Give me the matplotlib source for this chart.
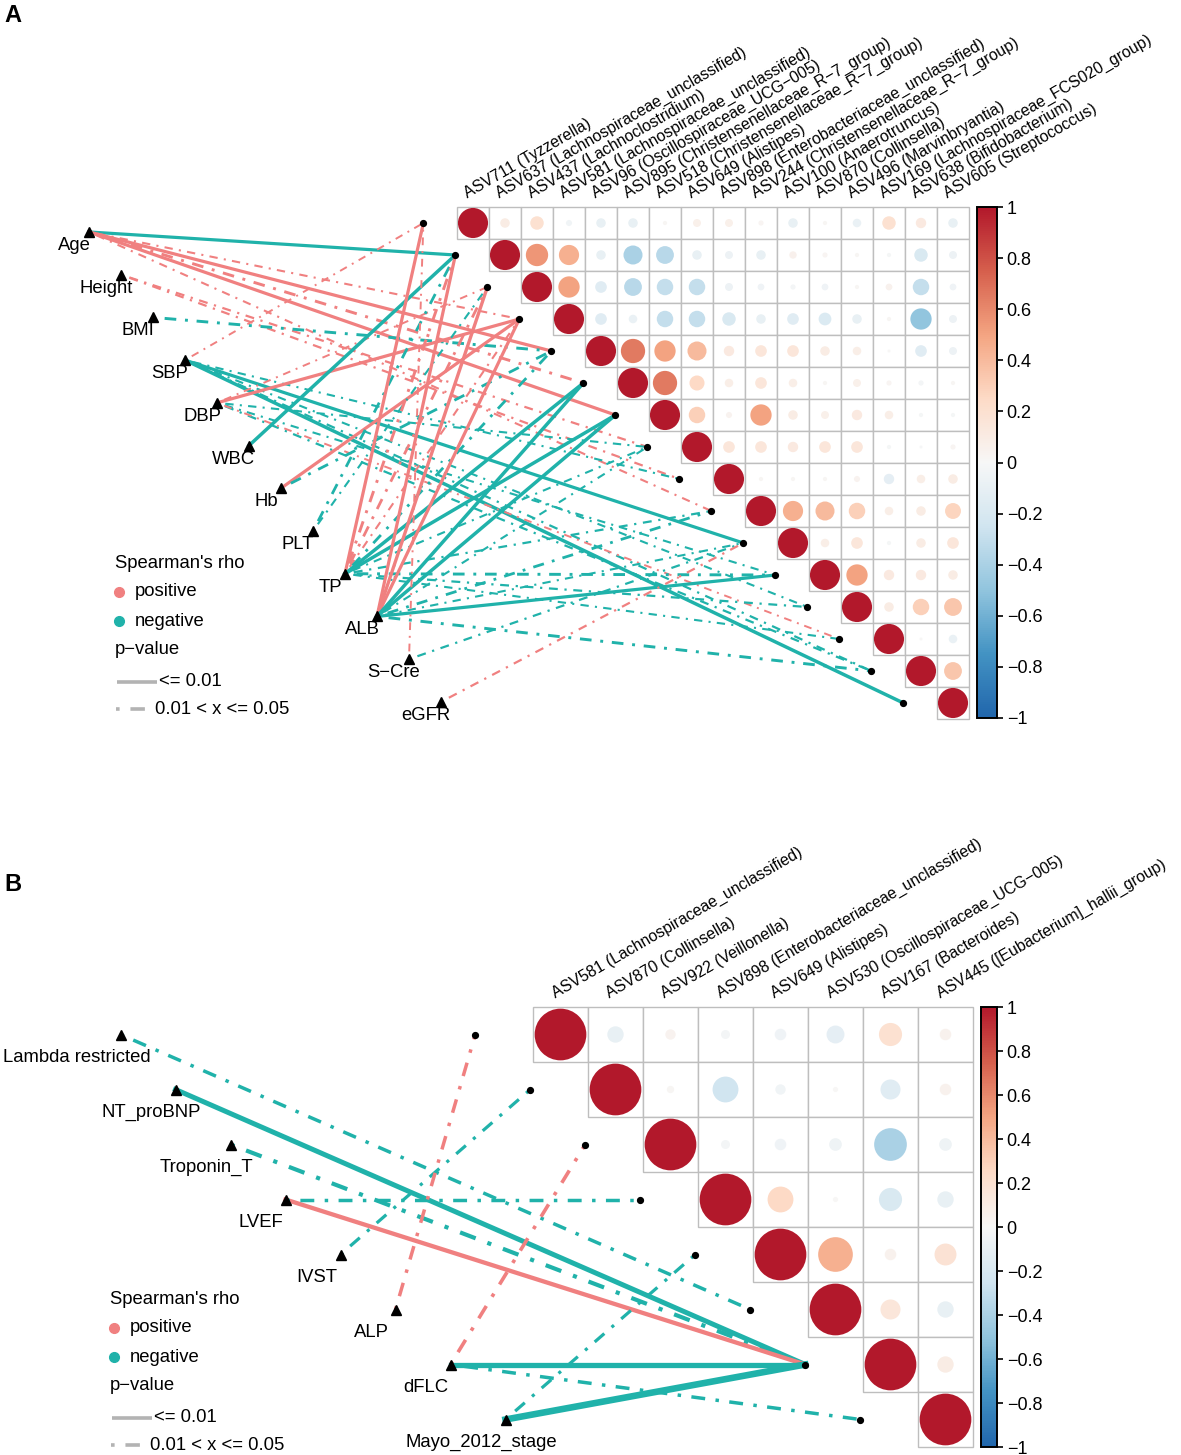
import matplotlib
matplotlib.use("Agg")
import matplotlib.pyplot as plt
import numpy as np
from matplotlib.patches import Rectangle, Circle
from matplotlib.colors import LinearSegmentedColormap, Normalize
from matplotlib.cm import ScalarMappable

plt.rcParams['font.family'] = ['Liberation Sans', 'DejaVu Sans']

W, H = 1181, 1455
POS = '#F08080'
NEG = '#20B2AA'
DOTDASH = (0, (1, 3, 4, 3))
rdbu = LinearSegmentedColormap.from_list(
    'rdbu', ['#2166AC', '#4393C3', '#92C5DE', '#D1E5F0', '#F7F7F7',
             '#FDDBC7', '#F4A582', '#D6604D', '#B2182B'])

# ---------------- panel A data ----------------
taxa_a = ['ASV711 (Tyzzerella)',
          'ASV637 (Lachnospiraceae_unclassified)',
          'ASV437 (Lachnoclostridium)',
          'ASV581 (Lachnospiraceae_unclassified)',
          'ASV96 (Oscillospiraceae_UCG\u2212005)',
          'ASV895 (Christensenellaceae_R\u22127_group)',
          'ASV518 (Christensenellaceae_R\u22127_group)',
          'ASV649 (Alistipes)',
          'ASV898 (Enterobacteriaceae_unclassified)',
          'ASV244 (Christensenellaceae_R\u22127_group)',
          'ASV100 (Anaerotruncus)',
          'ASV870 (Collinsella)',
          'ASV496 (Marvinbryantia)',
          'ASV169 (Lachnospiraceae_FCS020_group)',
          'ASV638 (Bifidobacterium)',
          'ASV605 (Streptococcus)']

# upper triangle, row i starts at the diagonal
corr_a = [
    [1, 0.10, 0.20, -0.04, -0.10, -0.10, 0.02, 0.07, 0.07, 0.03, -0.10, 0.02, -0.08, 0.20, 0.12, -0.10],
    [1, 0.55, 0.45, -0.10, -0.40, -0.35, -0.10, -0.07, -0.10, 0.06, 0.03, 0.02, -0.02, -0.20, -0.07],
    [1, 0.50, -0.15, -0.35, -0.30, -0.30, -0.07, -0.05, -0.03, -0.05, 0.02, 0.05, -0.30, -0.05],
    [1, -0.15, -0.08, -0.30, -0.30, -0.20, -0.10, -0.15, -0.18, -0.10, 0.02, -0.50, -0.07],
    [1, 0.65, 0.50, 0.40, 0.12, 0.15, 0.15, 0.10, 0.08, 0.01, -0.15, -0.07],
    [1, 0.65, 0.25, 0.08, 0.15, 0.08, 0.02, 0.07, 0.03, -0.03, 0.02],
    [1, 0.30, 0.04, 0.50, 0.10, 0.07, 0.12, 0.08, -0.02, -0.02],
    [1, 0.15, 0.15, 0.12, 0.15, 0.15, -0.02, -0.01, 0.03],
    [1, 0.02, 0.02, 0.02, 0.04, -0.12, 0.08, 0.10],
    [1, 0.45, 0.40, 0.30, 0.08, 0.10, 0.28],
    [1, 0.08, 0.15, -0.02, 0.10, 0.15],
    [1, 0.50, 0.12, 0.12, 0.10],
    [1, 0.10, 0.30, 0.35],
    [1, 0.01, -0.08],
    [1, 0.35],
    [1],
]

env_a = ['Age', 'Height', 'BMI', 'SBP', 'DBP', 'WBC', 'Hb', 'PLT', 'TP', 'ALB',
         'S\u2212Cre', 'eGFR']

# (env, taxon row, rho, p class) ; 's' = p <= 0.01, 'd' = 0.01 < p <= 0.05
links_a = [
    ('Age', 1, -0.36, 's'), ('Age', 4, 0.36, 's'), ('Age', 6, 0.36, 's'),
    ('Age', 5, 0.32, 'd'), ('Age', 9, 0.20, 'd'), ('Age', 3, 0.20, 'd'),
    ('Height', 7, 0.22, 'd'), ('Height', 8, 0.22, 'd'),
    ('BMI', 4, -0.32, 'd'),
    ('SBP', 0, 0.18, 'd'), ('SBP', 10, -0.36, 's'), ('SBP', 15, -0.40, 's'),
    ('SBP', 8, -0.20, 'd'), ('SBP', 14, -0.22, 'd'), ('SBP', 12, -0.20, 'd'),
    ('DBP', 3, 0.36, 's'), ('DBP', 2, 0.18, 'd'), ('DBP', 7, -0.20, 'd'),
    ('DBP', 11, -0.20, 'd'), ('DBP', 14, -0.22, 'd'), ('DBP', 13, 0.18, 'd'),
    ('WBC', 1, -0.40, 's'),
    ('Hb', 3, 0.36, 's'), ('Hb', 4, -0.30, 'd'),
    ('PLT', 1, -0.30, 'd'), ('PLT', 2, -0.20, 'd'),
    ('TP', 0, 0.36, 's'), ('TP', 1, 0.32, 'd'), ('TP', 2, 0.30, 'd'),
    ('TP', 3, 0.20, 'd'), ('TP', 4, -0.30, 'd'), ('TP', 5, -0.40, 's'),
    ('TP', 6, -0.40, 's'), ('TP', 7, -0.20, 'd'), ('TP', 9, -0.22, 'd'),
    ('TP', 11, -0.32, 'd'), ('TP', 12, -0.22, 'd'), ('TP', 13, -0.20, 'd'),
    ('ALB', 1, 0.36, 's'), ('ALB', 2, 0.38, 's'), ('ALB', 3, 0.36, 's'),
    ('ALB', 5, -0.40, 's'), ('ALB', 6, -0.40, 's'), ('ALB', 7, -0.20, 'd'),
    ('ALB', 9, -0.30, 'd'), ('ALB', 10, -0.20, 'd'), ('ALB', 11, -0.36, 's'),
    ('ALB', 14, -0.32, 'd'),
    ('S\u2212Cre', 0, 0.18, 'd'), ('S\u2212Cre', 10, -0.22, 'd'),
    ('eGFR', 10, 0.22, 'd'),
]

# ---------------- panel B data ----------------
taxa_b = ['ASV581 (Lachnospiraceae_unclassified)',
          'ASV870 (Collinsella)',
          'ASV922 (Veillonella)',
          'ASV898 (Enterobacteriaceae_unclassified)',
          'ASV649 (Alistipes)',
          'ASV530 (Oscillospiraceae_UCG\u2212005)',
          'ASV167 (Bacteroides)',
          'ASV445 ([Eubacterium]_hallii_group)']

corr_b = [
    [1, -0.10, 0.04, -0.03, -0.05, -0.12, 0.20, 0.05],
    [1, 0.02, -0.25, -0.04, 0.01, -0.15, 0.05],
    [1, -0.03, -0.05, -0.06, -0.40, -0.06],
    [1, 0.25, 0.01, -0.20, -0.10],
    [1, 0.45, 0.05, 0.18],
    [1, 0.15, -0.10],
    [1, 0.10],
    [1],
]

env_b = ['Lambda restricted', 'NT_proBNP', 'Troponin_T', 'LVEF', 'IVST', 'ALP',
         'dFLC', 'Mayo_2012_stage']

links_b = [
    ('Lambda restricted', 5, -0.40, 'd'),
    ('NT_proBNP', 6, -0.62, 's'),
    ('Troponin_T', 6, -0.50, 'd'),
    ('LVEF', 6, 0.52, 's'), ('LVEF', 3, -0.40, 'd'),
    ('IVST', 1, -0.36, 'd'),
    ('ALP', 0, 0.40, 'd'),
    ('dFLC', 2, 0.42, 'd'), ('dFLC', 6, -0.66, 's'), ('dFLC', 7, -0.40, 'd'),
    ('Mayo_2012_stage', 6, -0.85, 's'), ('Mayo_2012_stage', 4, -0.36, 'd'),
]

fig = plt.figure(figsize=(W / 100, H / 100), dpi=100)


def make_axes(left, top, right, bottom, x0, y0, cell):
    ax = fig.add_axes([left / W, 1 - bottom / H, (right - left) / W, (bottom - top) / H])
    ax.set_xlim((left - x0) / cell, (right - x0) / cell)
    ax.set_ylim((bottom - y0) / cell, (top - y0) / cell)
    ax.axis('off')
    return ax


def draw_panel(ax, taxa, corr, env, links, env_top, env_step, lab_off, lab_shift):
    n = len(taxa)
    # correlation matrix
    for i in range(n):
        for k, r in enumerate(corr[i]):
            j = i + k
            ax.add_patch(Rectangle((j, i), 1, 1, facecolor='white',
                                   edgecolor='#BEBEBE', lw=1.0, zorder=3))
            ax.add_patch(Circle((j + 0.5, i + 0.5), 0.47 * np.sqrt(abs(r)),
                                facecolor=rdbu((r + 1) / 2), edgecolor='none', zorder=4))
    for j, lab in enumerate(taxa):
        ax.annotate(lab, xy=(j + 0.5, 0), xytext=(-4, 6), textcoords='offset points',
                    rotation=30, rotation_mode='anchor', ha='left', va='baseline',
                    fontsize=11.4, zorder=5)
    # node positions
    m = len(env)
    env_xy = {e: (k - m + 0.5, env_top + k * env_step) for k, e in enumerate(env)}
    dot_xy = [(i - 1.05, i + 0.5) for i in range(n)]
    for e, t, rho, p in links:
        (x1, y1), (x2, y2) = env_xy[e], dot_xy[t]
        ax.plot([x1, x2], [y1, y2], color=POS if rho > 0 else NEG,
                lw=0.5 + 5 * abs(rho), ls='-' if p == 's' else DOTDASH, zorder=1)
    ax.plot([d[0] for d in dot_xy], [d[1] for d in dot_xy], 'o', color='black',
            ms=4.2, zorder=2)
    for e, (x, y) in env_xy.items():
        ax.plot(x, y, '^', color='black', ms=7.5, zorder=2)
        ax.text(x + lab_off[0] + lab_shift.get(e, 0), y + lab_off[1], e,
                ha='center', va='center', fontsize=13.3, zorder=5)


def draw_legend(ax, x0, y0, cell, lx, ly):
    def d(px, py):
        return (px - x0) / cell, (py - y0) / cell
    ax.text(*d(lx, ly), "Spearman's rho", fontsize=13.3, va='center', ha='left')
    for k, (lab, col) in enumerate([('positive', POS), ('negative', NEG)]):
        py = ly + 28 + k * 29
        ax.plot(*d(lx + 4, py), 'o', color=col, ms=7)
        ax.text(*d(lx + 20, py), lab, fontsize=13.3, va='center', ha='left')
    ax.text(*d(lx, ly + 86), 'p\u2212value', fontsize=13.3, va='center', ha='left')
    ya = ly + 118
    xa, ya_ = zip(d(lx + 2, ya), d(lx + 42, ya))
    ax.plot(xa, ya_, color='#B3B3B3', lw=2.6, solid_capstyle='butt')
    ax.text(*d(lx + 44, ya), '<= 0.01', fontsize=13.3, va='center', ha='left')
    yb = ly + 145
    xb, yb_ = zip(d(lx + 1, yb), d(lx + 37, yb))
    ax.plot(xb, yb_, color='#B3B3B3', lw=2.6, ls=DOTDASH)
    ax.text(*d(lx + 40, yb), '0.01 < x <= 0.05', fontsize=13.3, va='center', ha='left')


def draw_colorbar(left, top, right, bottom):
    cax = fig.add_axes([left / W, 1 - bottom / H, (right - left) / W, (bottom - top) / H])
    sm = ScalarMappable(norm=Normalize(-1, 1), cmap=rdbu)
    cb = fig.colorbar(sm, cax=cax)
    ticks = np.linspace(-1, 1, 11)
    cb.set_ticks(ticks)
    cb.set_ticklabels([f"{v:g}".replace('-', '\u2212') if abs(v) > 1e-9 else '0'
                       for v in np.round(ticks, 1)])
    cb.outline.set_linewidth(1.4)
    cb.outline.set_edgecolor('black')
    cax.tick_params(labelsize=13, length=4, width=1.2, pad=3)


# panel A
xa0, ya0, ca = 457, 207, 32
axA = make_axes(0, 0, 972, 770, xa0, ya0, ca)
draw_panel(axA, taxa_a, corr_a, env_a, links_a, 0.78, 1.335, (-0.47, 0.42), {})
draw_legend(axA, xa0, ya0, ca, 115, 564)
draw_colorbar(977, 207, 997, 718)

# panel B
xb0, yb0, cbz = 533, 1007, 55
axB = make_axes(0, 790, 976, 1455, xb0, yb0, cbz)
draw_panel(axB, taxa_b, corr_b, env_b, links_b, 0.5, 1.0, (-0.44, 0.42),
           {'Lambda restricted': -0.36})
draw_legend(axB, xb0, yb0, cbz, 110, 1300)
draw_colorbar(981, 1007, 997, 1447)

fig.text(4 / W, 1 - 15 / H, 'A', fontsize=17, fontweight='bold', va='center')
fig.text(4 / W, 1 - 885 / H, 'B', fontsize=17, fontweight='bold', va='center')

fig.savefig('out.png', dpi=100)
